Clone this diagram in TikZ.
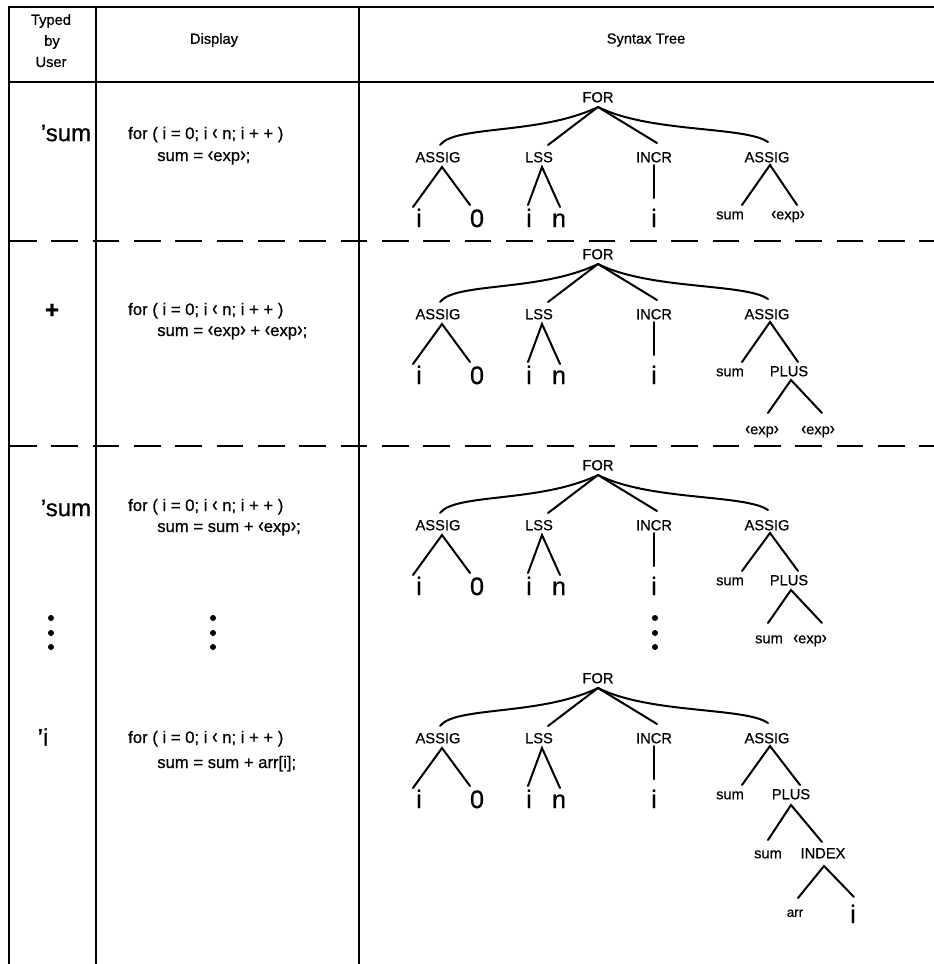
\documentclass[tikz,border=0pt]{standalone}
\usepackage{fontspec}
\setmainfont{Liberation Sans}[FakeBold=0.6]
\usetikzlibrary{calc}
\newcommand{\lA}{\scalebox{1}[1.25]{‹}}
\newcommand{\rA}{\scalebox{1}[1.25]{›}}
\tikzset{
  rule/.style={line width=1.5pt},
  dashrule/.style={line width=1.5pt, dash pattern=on 20pt off 11pt},
  tl/.style={line width=1.5pt, line cap=round},
  lab/.style={font=\fontsize{11}{13}\selectfont, inner sep=0pt, text height=7.9pt, text depth=0pt},
  small/.style={font=\fontsize{10}{12}\selectfont, inner sep=0pt, text height=7.2pt, text depth=0pt},
  big/.style={font=\fontsize{19}{22}\selectfont, inner sep=0pt, text height=13.6pt, text depth=0pt},
  head/.style={font=\fontsize{11}{13}\selectfont, inner sep=0pt},
  typed/.style={font=\fontsize{18}{21}\selectfont, inner sep=0pt},
  disp/.style={font=\fontsize{12.5}{15}\selectfont, inner sep=0pt, anchor=west, text height=9pt, text depth=0pt},
  vdot/.style={circle, fill=black, inner sep=0pt, minimum size=4.5pt},
}
% #1 prefix, #2 y of FOR, #3 label of right child of second ASSIG, #4 its x, #5 its dy
\newcommand{\TopTree}[5]{%
  \node[lab] (#1for) at (598,#2) {FOR};
  \node[lab] (#1a) at (438,#2+60) {ASSIG};
  \node[lab] (#1lss) at (539,#2+60) {LSS};
  \node[lab] (#1incr) at (654,#2+60) {INCR};
  \node[lab] (#1b) at (767,#2+60) {ASSIG};
  \node[big] (#1ia) at (419,#2+121) {i};
  \node[big] (#1z) at (477,#2+121) {0};
  \node[big] (#1ib) at (529,#2+121) {i};
  \node[big] (#1n) at (559,#2+121) {n};
  \node[big] (#1ic) at (654,#2+121) {i};
  \node[lab] (#1s) at (730,#2+#5) {sum};
  \node[lab] (#1r) at (#4,#2+#5) {#3};
  \draw[tl] ($(#1for)+(0,10)$) .. controls ($(#1for)+(-58,38)$) and ($(#1a)+(17,-32)$) .. ($(#1a)+(2,-12)$);
  \draw[tl] ($(#1for)+(0,10)$) -- ($(#1lss)+(9,-12)$);
  \draw[tl] ($(#1for)+(0,10)$) -- ($(#1incr)+(3,-14)$);
  \draw[tl] ($(#1for)+(0,10)$) .. controls ($(#1for)+(52,36)$) and ($(#1b)+(-22,-31)$) .. ($(#1b)+(1,-15)$);
  \draw[tl] ($(#1ia)+(-6,-11)$) -- ($(#1a)+(4,10)$) -- ($(#1z)+(-7,-13)$);
  \draw[tl] ($(#1ib)+(-1,-13)$) -- ($(#1lss)+(3,10)$) -- ($(#1n)+(1,-11)$);
  \draw[tl] ($(#1incr)+(0,8)$) -- ($(#1ic)+(0,-20)$);
  \draw[tl] ($(#1s)+(12,-9)$) -- ($(#1b)+(3,8)$) -- ($(#1r)+(9,-9)$);
}
\begin{document}
\begin{tikzpicture}[x=0.75pt,y=-0.75pt]
\useasboundingbox (0,0) rectangle (934,964);
% table frame
\coordinate (c0t) at (9,7);   \coordinate (c0b) at (9,964);
\coordinate (c1t) at (96,7);  \coordinate (c1b) at (96,964);
\coordinate (c2t) at (359,7); \coordinate (c2b) at (359,964);
\coordinate (rt) at (934,7);
\coordinate (hl) at (9,82);   \coordinate (hr) at (934,82);
\coordinate (d1l) at (10,241); \coordinate (d1r) at (934,241);
\coordinate (d2l) at (10,446); \coordinate (d2r) at (934,446);
\draw[rule] (rt) -- (c0t) -- (c0b);
\draw[rule] (c1t) -- (c1b);
\draw[rule] (c2t) -- (c2b);
\draw[rule] (hl) -- (hr);
\draw[dashrule] (d1l) -- (d1r);
\draw[dashrule] (d2l) -- (d2r);
% header
\node[head] (h1) at (51,21) {Typed};
\node[head] (h2) at (52,42) {by};
\node[head] (h3) at (51,62) {User};
\node[head] (h4) at (214,40) {Display};
\node[head] (h5) at (646,40) {Syntax Tree};
% typed column
\node[typed] (t1) at (66,133) {'sum};
\node[typed] (t2) at (52,311) {\textbf{+}};
\node[typed] (t3) at (66,508) {'sum};
\node[typed] (t4) at (43,737) {'i};
% display column
\node[disp] (p1a) at (128,133) {for ( i = 0; i \lA{} n; i + + )};
\node[disp] (p1b) at (157,155) {sum = \lA{}exp\rA;};
\node[disp] (p2a) at (128,309) {for ( i = 0; i \lA{} n; i + + )};
\node[disp] (p2b) at (157,330) {sum = \lA{}exp\rA{} + \lA{}exp\rA;};
\node[disp] (p3a) at (128,505) {for ( i = 0; i \lA{} n; i + + )};
\node[disp] (p3b) at (157,526) {sum = sum + \lA{}exp\rA;};
\node[disp] (p4a) at (128,737) {for ( i = 0; i \lA{} n; i + + )};
\node[disp] (p4b) at (157,762) {sum = sum + arr[i];};
% vertical dots
\foreach \x/\n in {51/a,213/b,655/c}{
  \node[vdot] (v\n1) at (\x,618) {};
  \node[vdot] (v\n2) at (\x,633) {};
  \node[vdot] (v\n3) at (\x,647) {};
}
% tree 1
\TopTree{A}{97}{\lA{}exp\rA}{788}{117}
% tree 2
\TopTree{B}{254}{PLUS}{789}{117}
\node[lab] (Bc1) at (762,429) {\lA{}exp\rA};
\node[lab] (Bc2) at (818,429) {\lA{}exp\rA};
\draw[tl] ($(Bc1)+(6,-16)$) -- ($(Br)+(2,9)$) -- ($(Bc2)+(4,-16)$);
% tree 3
\TopTree{C}{465}{PLUS}{789}{115}
\node[lab] (Cc1) at (769,638) {sum};
\node[lab] (Cc2) at (810,638) {\lA{}exp\rA};
\draw[tl] ($(Cc1)+(-1,-15)$) -- ($(Cr)+(2,10)$) -- ($(Cc2)+(12,-15)$);
% tree 4
\TopTree{D}{678}{PLUS}{791}{116}
\node[lab] (Dc1) at (768,853) {sum};
\node[lab] (Dc2) at (823,853) {INDEX};
\draw[tl] ($(Dc1)+(0,-13)$) -- ($(Dr)+(0,11)$) -- ($(Dc2)+(-1,-11)$);
\node[small] (Dd1) at (795,912) {arr};
\node[big] (Dd2) at (853,914) {i};
\draw[tl] ($(Dd1)+(3,-14)$) -- ($(Dc2)+(1,13)$) -- ($(Dd2)+(1,-17)$);
\end{tikzpicture}
\end{document}
